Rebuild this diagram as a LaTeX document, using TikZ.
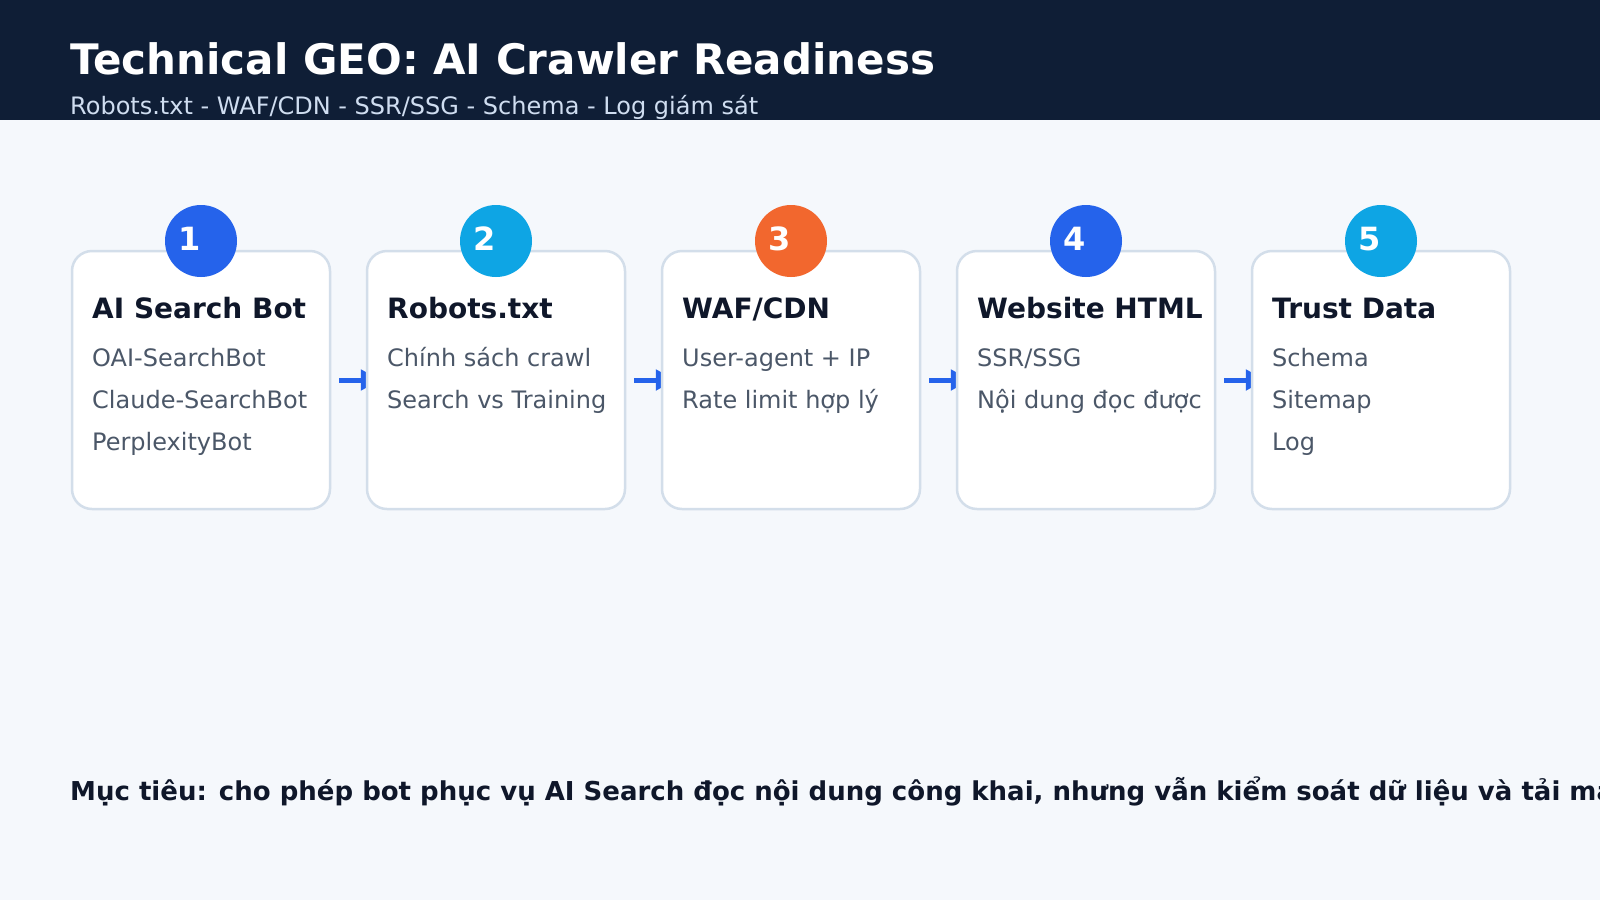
\documentclass[tikz,border=0pt]{standalone}
\usepackage{fontspec}
\setmainfont{DejaVu Sans}
\usetikzlibrary{arrows.meta,backgrounds}

\definecolor{headbg}{HTML}{0F1E36}
\definecolor{pagebg}{HTML}{F5F8FC}
\definecolor{subtext}{HTML}{CFDDF0}
\definecolor{cardline}{HTML}{D3DEEA}
\definecolor{ink}{HTML}{0F172A}
\definecolor{slate}{HTML}{4B5768}
\definecolor{flowblue}{HTML}{2563EB}
\definecolor{skyblue}{HTML}{0EA5E4}
\definecolor{fireorange}{HTML}{F2672E}

\tikzset{
  card/.style={draw=cardline, line width=2.5pt, fill=white, rounded corners=20pt,
    minimum width=258pt, minimum height=258pt},
  badge/.style={circle, fill=#1, minimum size=72pt, inner sep=0pt},
  num/.style={anchor=base, inner sep=0pt, text=white, font=\fontsize{32}{38}\selectfont\bfseries},
  cardtitle/.style={anchor=base west, inner sep=0pt, text=ink, font=\fontsize{28}{34}\selectfont\bfseries},
  item/.style={anchor=base west, inner sep=0pt, text=slate, font=\fontsize{24}{29}\selectfont},
  flow/.style={draw=flowblue, line width=5pt, -{Triangle[length=20pt,width=20pt]}},
}

\begin{document}
\begin{tikzpicture}[x=1pt,y=-1pt]
  \useasboundingbox (0,0) rectangle (1600,900);
  \begin{scope}[on background layer]
    \fill[pagebg] (0,0) rectangle (1600,900);
  \end{scope}

  % header
  \fill[headbg] (0,0) rectangle (1600,120);
  \node[anchor=base west, inner sep=0pt, text=white, font=\fontsize{42}{50}\selectfont\bfseries]
    (title) at (70,74) {Technical GEO: AI Crawler Readiness};
  \node[anchor=base west, inner sep=0pt, text=subtext, font=\fontsize{24}{29}\selectfont]
    (subtitle) at (70,114) {Robots.txt - WAF/CDN - SSR/SSG - Schema - Log giám sát};

  % cards
  \node[card] (c1) at (201,380) {};
  \node[card] (c2) at (496,380) {};
  \node[card] (c3) at (791,380) {};
  \node[card] (c4) at (1086,380) {};
  \node[card] (c5) at (1381,380) {};

  % badges
  \node[badge=flowblue] (b1) at (201,241) {};
  \node[badge=skyblue] (b2) at (496,241) {};
  \node[badge=fireorange] (b3) at (791,241) {};
  \node[badge=flowblue] (b4) at (1086,241) {};
  \node[badge=skyblue] (b5) at (1381,241) {};
  \node[num] (n1) at (190,250) {1};
  \node[num] (n2) at (485,250) {2};
  \node[num] (n3) at (780,250) {3};
  \node[num] (n4) at (1075,250) {4};
  \node[num] (n5) at (1370,250) {5};

  % card titles
  \node[cardtitle] (t1) at (92,318) {AI Search Bot};
  \node[cardtitle] (t2) at (387,318) {Robots.txt};
  \node[cardtitle] (t3) at (682,318) {WAF/CDN};
  \node[cardtitle] (t4) at (977,318) {Website HTML};
  \node[cardtitle] (t5) at (1272,318) {Trust Data};

  % card lines
  \node[item] (i11) at (92,366) {OAI-SearchBot};
  \node[item] (i12) at (92,408) {Claude-SearchBot};
  \node[item] (i13) at (92,450) {PerplexityBot};
  \node[item] (i21) at (387,366) {Chính sách crawl};
  \node[item] (i22) at (387,408) {Search vs Training};
  \node[item] (i31) at (682,366) {User-agent + IP};
  \node[item] (i32) at (682,408) {Rate limit hợp lý};
  \node[item] (i41) at (977,366) {SSR/SSG};
  \node[item] (i42) at (977,408) {Nội dung đọc được};
  \node[item] (i51) at (1272,366) {Schema};
  \node[item] (i52) at (1272,408) {Sitemap};
  \node[item] (i53) at (1272,450) {Log};

  % arrows, under the cards
  \begin{scope}[on background layer]
    \draw[flow] ([xshift=8pt]c1.east) -- ([xshift=15pt]c2.west);
    \draw[flow] ([xshift=8pt]c2.east) -- ([xshift=15pt]c3.west);
    \draw[flow] ([xshift=8pt]c3.east) -- ([xshift=15pt]c4.west);
    \draw[flow] ([xshift=8pt]c4.east) -- ([xshift=15pt]c5.west);
  \end{scope}

  % footer
  \node[anchor=base west, inner sep=0pt, text=ink, font=\fontsize{26}{31}\selectfont\bfseries]
    (goal) at (70,800) {Mục tiêu: cho phép bot phục vụ AI Search đọc nội dung công khai, nhưng vẫn kiểm soát dữ liệu và tải ma};
\end{tikzpicture}
\end{document}
